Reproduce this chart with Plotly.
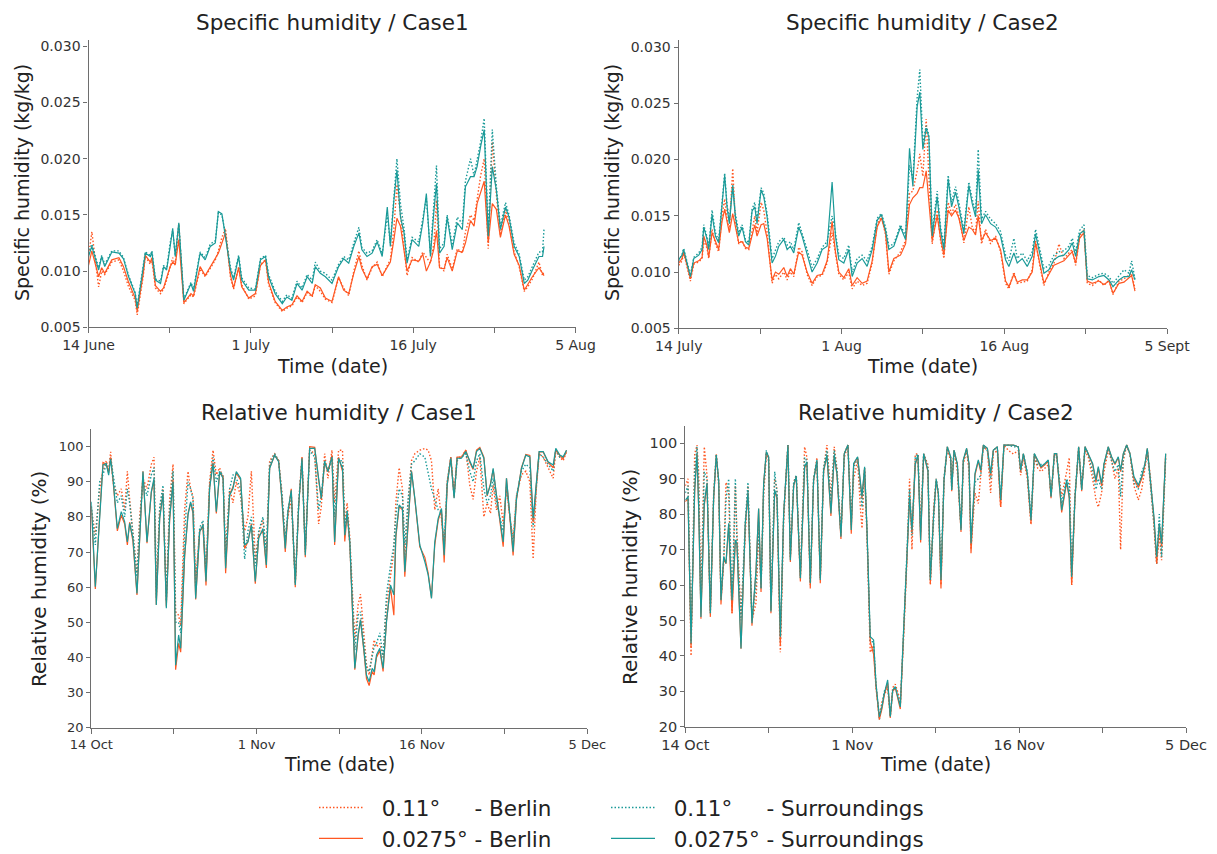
import plotly.graph_objects as go

# ---------------- Specific humidity / Case1 (time in days from start, 8 days per tick) ----------------
T_SH1 = [0.0, 0.33, 1.0, 1.3, 1.6, 2.3, 3.0, 3.45, 3.95, 4.6,
         4.8, 5.4, 5.6, 6.1, 6.25, 6.6, 7.1, 7.4, 7.7, 8.05,
         8.3, 8.55, 8.9, 9.4, 9.85, 10.1, 10.35, 11.0, 11.5, 12.0,
         12.5, 12.8, 13.15, 13.5, 14.0, 14.3, 14.8, 15.1, 15.8, 16.45,
         16.95, 17.45, 17.75, 18.4, 19.1, 19.55, 20.05, 20.55, 21.05, 21.55,
         22.05, 22.35, 22.85, 23.35, 24.0, 24.65, 25.15, 25.65, 26.15, 26.65,
         26.95, 27.45, 27.95, 28.45, 28.95, 29.45, 29.75, 30.1, 30.4, 30.75,
         31.1, 31.4, 31.9, 32.55, 32.95, 33.3, 33.7, 34.05, 34.3, 34.6,
         35.05, 35.35, 35.85, 36.35, 36.85, 37.15, 37.65, 38.0, 38.3, 38.65,
         39.0, 39.4, 39.8, 40.2, 40.6, 41.1, 41.45, 41.95, 42.45, 42.95,
         43.3, 43.75, 44.4, 44.75, 44.9]
SH1_BER_C = [0.0112, 0.0135, 0.0086, 0.0100, 0.0097, 0.0108, 0.0110, 0.0100, 0.0086, 0.0074,
             0.0061, 0.0096, 0.0113, 0.0106, 0.0110, 0.0085, 0.0080, 0.0084, 0.0092, 0.0103,
             0.0112, 0.0105, 0.0142, 0.0071, 0.0076, 0.0079, 0.0077, 0.0102, 0.0095, 0.0103,
             0.0110, 0.0118, 0.0130, 0.0138, 0.0094, 0.0084, 0.0104, 0.0088, 0.0075, 0.0078,
             0.0106, 0.0110, 0.0088, 0.0072, 0.0064, 0.0067, 0.0069, 0.0077, 0.0072, 0.0081,
             0.0077, 0.0087, 0.0082, 0.0075, 0.0072, 0.0094, 0.0085, 0.0078, 0.0100, 0.0118,
             0.0105, 0.0092, 0.0103, 0.0108, 0.0095, 0.0105, 0.0110, 0.0138, 0.0177, 0.0150,
             0.0122, 0.0096, 0.0112, 0.0108, 0.0117, 0.0112, 0.0107, 0.0125, 0.0163, 0.0104,
             0.0100, 0.0115, 0.0102, 0.0120, 0.0116, 0.0135, 0.0150, 0.0145, 0.0165, 0.0185,
             0.0200, 0.0120, 0.0215, 0.0168, 0.0132, 0.0155, 0.0142, 0.0117, 0.0104, 0.0082,
             0.0086, 0.0093, 0.0108, 0.0096, 0.0100]
SH1_BER_F = [0.0105, 0.0118, 0.0095, 0.0103, 0.0098, 0.0110, 0.0112, 0.0104, 0.0090, 0.0076,
             0.0064, 0.0098, 0.0114, 0.0108, 0.0112, 0.0087, 0.0082, 0.0085, 0.0094, 0.0104,
             0.0108, 0.0106, 0.0128, 0.0072, 0.0077, 0.0080, 0.0078, 0.0104, 0.0096, 0.0104,
             0.0112, 0.0116, 0.0125, 0.0134, 0.0096, 0.0085, 0.0103, 0.0086, 0.0076, 0.0080,
             0.0105, 0.0110, 0.0090, 0.0073, 0.0065, 0.0068, 0.0070, 0.0078, 0.0073, 0.0082,
             0.0078, 0.0088, 0.0085, 0.0076, 0.0073, 0.0095, 0.0083, 0.0080, 0.0098, 0.0113,
             0.0102, 0.0093, 0.0104, 0.0106, 0.0096, 0.0104, 0.0108, 0.0128, 0.0147, 0.0140,
             0.0120, 0.0100, 0.0110, 0.0109, 0.0115, 0.0100, 0.0108, 0.0120, 0.0136, 0.0103,
             0.0102, 0.0112, 0.0100, 0.0118, 0.0117, 0.0125, 0.0145, 0.0140, 0.0160, 0.0170,
             0.0180, 0.0125, 0.0160, 0.0155, 0.0130, 0.0150, 0.0140, 0.0115, 0.0105, 0.0083,
             0.0088, 0.0095, 0.0103, 0.0098, 0.0096]
SH1_SUR_C = [0.0116, 0.0124, 0.0103, 0.0114, 0.0106, 0.0118, 0.0118, 0.0112, 0.0096, 0.0081,
             0.0069, 0.0102, 0.0117, 0.0114, 0.0118, 0.0093, 0.0091, 0.0105, 0.0102, 0.0125,
             0.0136, 0.0114, 0.0142, 0.0075, 0.0085, 0.0090, 0.0084, 0.0117, 0.0112, 0.0124,
             0.0127, 0.0152, 0.0150, 0.0133, 0.0103, 0.0094, 0.0114, 0.0094, 0.0085, 0.0084,
             0.0111, 0.0114, 0.0097, 0.0082, 0.0073, 0.0079, 0.0076, 0.0091, 0.0085, 0.0097,
             0.0092, 0.0108, 0.0100, 0.0098, 0.0092, 0.0106, 0.0113, 0.0110, 0.0125, 0.0139,
             0.0121, 0.0116, 0.0118, 0.0128, 0.0115, 0.0150, 0.0125, 0.0170, 0.0200, 0.0160,
             0.0138, 0.0110, 0.0130, 0.0126, 0.0145, 0.0165, 0.0116, 0.0160, 0.0194, 0.0120,
             0.0125, 0.0150, 0.0123, 0.0148, 0.0142, 0.0180, 0.0200, 0.0185, 0.0198, 0.0215,
             0.0236, 0.0135, 0.0226, 0.0175, 0.0140, 0.0161, 0.0150, 0.0125, 0.0115, 0.0092,
             0.0095, 0.0104, 0.0117, 0.0117, 0.0138]
SH1_SUR_F = [0.0113, 0.0122, 0.0101, 0.0113, 0.0104, 0.0117, 0.0116, 0.0111, 0.0095, 0.0080,
             0.0067, 0.0101, 0.0116, 0.0113, 0.0117, 0.0092, 0.0089, 0.0104, 0.0101, 0.0122,
             0.0138, 0.0113, 0.0143, 0.0074, 0.0083, 0.0089, 0.0082, 0.0116, 0.0110, 0.0122,
             0.0125, 0.0153, 0.0151, 0.0131, 0.0101, 0.0092, 0.0113, 0.0092, 0.0083, 0.0083,
             0.0110, 0.0113, 0.0095, 0.0080, 0.0071, 0.0077, 0.0074, 0.0089, 0.0083, 0.0095,
             0.0089, 0.0104, 0.0098, 0.0095, 0.0089, 0.0104, 0.0111, 0.0107, 0.0122, 0.0134,
             0.0119, 0.0113, 0.0116, 0.0126, 0.0113, 0.0157, 0.0122, 0.0163, 0.0190, 0.0148,
             0.0134, 0.0107, 0.0128, 0.0122, 0.0143, 0.0169, 0.0113, 0.0154, 0.0178, 0.0116,
             0.0122, 0.0148, 0.0119, 0.0143, 0.0137, 0.0175, 0.0184, 0.0184, 0.0193, 0.0211,
             0.0226, 0.0131, 0.0193, 0.0172, 0.0137, 0.0157, 0.0148, 0.0122, 0.0113, 0.0089,
             0.0092, 0.0101, 0.0113, 0.0113, 0.0122]

# ---------------- Specific humidity / Case2 ----------------
T_SH2 = [0.0, 0.33, 0.49, 0.82, 1.15, 1.48, 1.97, 2.3, 2.46, 2.79,
         2.95, 3.28, 3.61, 3.93, 4.26, 4.52, 4.75, 4.98, 5.31, 5.57,
         5.9, 6.23, 6.56, 6.89, 7.21, 7.48, 7.7, 8.1, 8.36, 8.69,
         9.18, 9.51, 9.84, 10.33, 10.66, 10.98, 11.31, 11.8, 12.13, 12.62,
         13.11, 13.61, 14.1, 14.59, 15.08, 15.41, 15.74, 16.23, 16.72, 17.05,
         17.54, 18.03, 18.52, 19.02, 19.51, 19.93, 20.33, 20.66, 21.15, 21.8,
         22.3, 22.69, 23.02, 23.44, 23.7, 24.0, 24.33, 24.59, 24.92, 25.41,
         25.74, 26.07, 26.49, 26.82, 27.21, 27.54, 28.03, 28.52, 28.85, 29.18,
         29.44, 29.77, 30.16, 30.66, 31.15, 31.64, 32.13, 32.46, 32.95, 33.28,
         33.77, 34.26, 34.75, 35.08, 35.41, 35.9, 36.39, 36.89, 37.38, 37.87,
         38.36, 38.69, 39.02, 39.41, 39.84, 40.16, 40.66, 41.31, 41.8, 42.3,
         42.69, 43.28, 43.77, 44.26, 44.52, 44.85]
SH2_BER_C = [0.0106, 0.0110, 0.0117, 0.0104, 0.0092, 0.0107, 0.0109, 0.0112, 0.0128, 0.0121,
             0.0112, 0.0138, 0.0125, 0.0118, 0.0150, 0.0165, 0.0148, 0.0137, 0.0192, 0.0145,
             0.0125, 0.0128, 0.0121, 0.0120, 0.0138, 0.0150, 0.0135, 0.0162, 0.0155, 0.0135,
             0.0090, 0.0098, 0.0094, 0.0100, 0.0093, 0.0100, 0.0096, 0.0122, 0.0118, 0.0098,
             0.0088, 0.0096, 0.0097, 0.0108, 0.0135, 0.0115, 0.0098, 0.0093, 0.0100, 0.0085,
             0.0092, 0.0088, 0.0090, 0.0108, 0.0142, 0.0150, 0.0133, 0.0098, 0.0110, 0.0118,
             0.0128, 0.0170, 0.0172, 0.0190, 0.0205, 0.0185, 0.0236, 0.0185, 0.0125, 0.0155,
             0.0128, 0.0112, 0.0162, 0.0152, 0.0160, 0.0150, 0.0126, 0.0158, 0.0140, 0.0135,
             0.0163, 0.0125, 0.0138, 0.0125, 0.0132, 0.0118, 0.0090, 0.0085, 0.0100, 0.0090,
             0.0091, 0.0092, 0.0102, 0.0128, 0.0110, 0.0088, 0.0100, 0.0108, 0.0125, 0.0112,
             0.0117, 0.0120, 0.0106, 0.0132, 0.0138, 0.0090, 0.0088, 0.0093, 0.0088, 0.0093,
             0.0080, 0.0092, 0.0094, 0.0097, 0.0099, 0.0085]
SH2_BER_F = [0.0108, 0.0112, 0.0118, 0.0106, 0.0094, 0.0108, 0.0110, 0.0113, 0.0132, 0.0123,
             0.0113, 0.0135, 0.0127, 0.0120, 0.0145, 0.0156, 0.0145, 0.0135, 0.0152, 0.0140,
             0.0126, 0.0127, 0.0122, 0.0121, 0.0133, 0.0142, 0.0132, 0.0142, 0.0143, 0.0130,
             0.0093, 0.0100, 0.0098, 0.0104, 0.0096, 0.0103, 0.0098, 0.0118, 0.0115, 0.0100,
             0.0090, 0.0097, 0.0098, 0.0110, 0.0145, 0.0118, 0.0100, 0.0095, 0.0103, 0.0088,
             0.0095, 0.0090, 0.0092, 0.0110, 0.0140, 0.0148, 0.0135, 0.0100, 0.0112, 0.0115,
             0.0125, 0.0160, 0.0166, 0.0170, 0.0175, 0.0175, 0.0190, 0.0165, 0.0128, 0.0150,
             0.0130, 0.0115, 0.0155, 0.0150, 0.0155, 0.0148, 0.0128, 0.0140, 0.0138, 0.0133,
             0.0150, 0.0128, 0.0135, 0.0128, 0.0130, 0.0120, 0.0092, 0.0087, 0.0098, 0.0091,
             0.0093, 0.0093, 0.0100, 0.0126, 0.0112, 0.0090, 0.0098, 0.0106, 0.0108, 0.0110,
             0.0115, 0.0118, 0.0108, 0.0130, 0.0135, 0.0092, 0.0090, 0.0092, 0.0089, 0.0092,
             0.0081, 0.0090, 0.0091, 0.0095, 0.0097, 0.0083]
SH2_SUR_C = [0.0110, 0.0116, 0.0121, 0.0109, 0.0097, 0.0113, 0.0117, 0.0122, 0.0142, 0.0131,
             0.0122, 0.0155, 0.0135, 0.0128, 0.0165, 0.0188, 0.0160, 0.0146, 0.0178, 0.0152,
             0.0135, 0.0142, 0.0129, 0.0126, 0.0156, 0.0162, 0.0146, 0.0175, 0.0170, 0.0152,
             0.0112, 0.0120, 0.0127, 0.0131, 0.0124, 0.0127, 0.0120, 0.0144, 0.0135, 0.0120,
             0.0104, 0.0112, 0.0122, 0.0127, 0.0150, 0.0135, 0.0115, 0.0112, 0.0124, 0.0100,
             0.0112, 0.0115, 0.0110, 0.0123, 0.0148, 0.0152, 0.0140, 0.0123, 0.0125, 0.0142,
             0.0132, 0.0195, 0.0182, 0.0255, 0.0280, 0.0215, 0.0230, 0.0222, 0.0136, 0.0172,
             0.0140, 0.0124, 0.0186, 0.0162, 0.0176, 0.0162, 0.0137, 0.0180, 0.0165, 0.0153,
             0.0209, 0.0147, 0.0154, 0.0147, 0.0143, 0.0136, 0.0115, 0.0110, 0.0130, 0.0112,
             0.0117, 0.0110, 0.0118, 0.0138, 0.0124, 0.0103, 0.0106, 0.0115, 0.0118, 0.0119,
             0.0123, 0.0130, 0.0118, 0.0137, 0.0142, 0.0097, 0.0095, 0.0098, 0.0099, 0.0096,
             0.0090, 0.0097, 0.0102, 0.0099, 0.0110, 0.0094]
SH2_SUR_F = [0.0111, 0.0115, 0.0120, 0.0108, 0.0096, 0.0112, 0.0115, 0.0120, 0.0140, 0.0129,
             0.0120, 0.0151, 0.0132, 0.0126, 0.0161, 0.0186, 0.0158, 0.0143, 0.0176, 0.0149,
             0.0132, 0.0140, 0.0127, 0.0124, 0.0154, 0.0158, 0.0143, 0.0173, 0.0167, 0.0149,
             0.0108, 0.0114, 0.0123, 0.0129, 0.0120, 0.0123, 0.0117, 0.0140, 0.0132, 0.0117,
             0.0100, 0.0108, 0.0120, 0.0123, 0.0180, 0.0132, 0.0111, 0.0108, 0.0120, 0.0096,
             0.0108, 0.0112, 0.0105, 0.0120, 0.0146, 0.0151, 0.0137, 0.0120, 0.0123, 0.0140,
             0.0129, 0.0210, 0.0176, 0.0247, 0.0260, 0.0209, 0.0228, 0.0220, 0.0132, 0.0167,
             0.0137, 0.0120, 0.0183, 0.0158, 0.0171, 0.0158, 0.0134, 0.0177, 0.0161, 0.0149,
             0.0191, 0.0143, 0.0151, 0.0143, 0.0140, 0.0132, 0.0111, 0.0105, 0.0117, 0.0108,
             0.0112, 0.0105, 0.0114, 0.0134, 0.0120, 0.0099, 0.0102, 0.0111, 0.0114, 0.0115,
             0.0120, 0.0126, 0.0114, 0.0134, 0.0137, 0.0094, 0.0093, 0.0096, 0.0097, 0.0093,
             0.0087, 0.0093, 0.0096, 0.0096, 0.0102, 0.0093]

# ---------------- Relative humidity / Case1 ----------------
T_RH1 = [0.0, 0.39, 0.81, 1.13, 1.45, 1.68, 1.87, 2.1, 2.52, 2.9,
         3.23, 3.49, 3.71, 4.03, 4.42, 4.68, 5.0, 5.39, 5.81, 6.07,
         6.29, 6.62, 6.94, 7.26, 7.58, 7.91, 8.16, 8.45, 8.65, 9.03,
         9.36, 9.61, 9.84, 10.1, 10.49, 10.81, 11.1, 11.45, 11.78, 12.1,
         12.42, 12.75, 13.0, 13.39, 13.71, 14.03, 14.45, 14.84, 15.16, 15.49,
         15.87, 16.2, 16.61, 16.94, 17.26, 17.74, 18.13, 18.45, 18.77, 19.03,
         19.35, 19.74, 20.07, 20.39, 20.71, 21.13, 21.62, 22.0, 22.26, 22.58,
         22.9, 23.29, 23.55, 23.93,
         24.31, 24.53, 24.76, 25.02, 25.5, 25.82, 26.05, 26.37, 26.63, 26.89,
         27.18, 27.37, 27.6, 27.92, 28.24, 28.57, 28.95, 29.28, 29.47, 29.79,
         30.11, 30.34, 30.66, 30.99, 31.31, 31.79, 32.28, 32.6, 32.92, 33.24,
         33.57, 33.89, 34.15, 34.44, 34.79, 35.11, 35.4, 35.82, 36.24, 36.63,
         36.95, 37.28, 37.6, 37.99, 38.31, 38.63, 38.89, 39.21, 39.53, 39.86,
         40.18, 40.5, 40.82, 41.15, 41.63, 42.05, 42.44, 42.76, 43.08, 43.34,
         43.73, 44.21, 44.7, 44.95, 45.34, 45.66, 45.99]
RH1_BER_C = [82, 75, 88, 93, 96, 93, 98.5, 90, 86, 88,
             82, 93, 85, 76, 64, 80, 91, 88, 95, 97,
             60, 82, 88, 58, 85, 95, 53, 52, 49, 82,
             93, 88, 86, 62, 76, 78, 65, 90, 99, 92,
             94, 91, 70, 88, 84, 90, 86, 76, 80, 93,
             68, 75, 79, 70, 96, 98, 96, 87, 74, 80,
             85, 62, 84, 97, 71, 99, 98, 78, 83, 98,
             91, 99, 84, 99,
             99, 78, 84, 74, 45, 55, 58, 47, 38, 35,
             42, 45, 43, 44, 40, 55, 63, 70, 84, 94,
             88, 68, 84, 96, 98, 99, 99.5, 99, 96, 82,
             88, 80, 72, 90, 97, 87, 97, 97, 99, 89,
             85, 93, 97, 80, 84, 81, 89, 82, 86, 78,
             88, 80, 74, 86, 92, 93, 90, 68, 89, 98,
             97, 94, 91, 99, 97, 96, 98.5]
RH1_BER_F = [83.0, 59.5, 80.5, 95.5, 95.0, 92.5, 97.0, 90.5, 76.0, 80.5,
             78.0, 72.0, 78.5, 73.0, 57.8, 74.0, 93.0, 72.5, 87.0, 90.5,
             55.0, 80.0, 86.5, 54.5, 79.0, 90.5, 36.5, 44.0, 41.5, 68.5,
             81.0, 84.0, 81.0, 56.5, 76.0, 77.0, 60.5, 88.5, 95.5, 81.0,
             92.5, 91.5, 64.0, 86.5, 88.5, 92.5, 90.5, 71.0, 73.0, 78.0,
             61.0, 74.5, 76.0, 65.5, 94.0, 97.5, 96.0, 84.5, 70.0, 81.0,
             88.0, 60.0, 83.0, 97.0, 68.5, 100.0, 99.8, 90.5, 85.0, 95.5,
             93.0, 97.5, 72.0, 97.0,
             93.0, 73.0, 81.0, 72.0, 36.5, 46.0, 50.8, 42.0, 34.0, 32.0,
             36.0, 35.0, 40.0, 42.0, 36.0, 50.5, 60.0, 52.0, 74.0, 83.0,
             82.0, 63.0, 79.0, 93.0, 85.0, 71.5, 68.5, 64.0, 57.0, 72.0,
             79.0, 82.0, 67.0, 89.0, 97.0, 85.5, 97.0, 97.0, 99.0, 95.5,
             93.5, 99.0, 99.8, 97.0, 86.0, 89.5, 93.5, 86.0, 79.0, 71.5,
             91.0, 81.0, 69.0, 85.0, 94.0, 97.8, 97.5, 78.5, 91.0, 98.5,
             98.5, 95.5, 94.0, 99.0, 97.5, 96.5, 99.0]
RH1_SUR_C = [83, 72, 90, 92, 95, 93, 97, 92, 84, 86,
             80, 88, 84, 75, 63, 78, 90, 86, 92, 94,
             57, 83, 89, 56, 82, 93, 50, 50, 47, 75,
             90, 88, 85, 60, 77, 79, 64, 89, 97, 90,
             93, 92, 68, 88, 92, 91, 88, 68, 76, 80,
             66, 76, 80, 70, 95, 98, 96, 86, 73, 82,
             87, 61, 84, 96, 70, 99, 97, 82, 86, 96,
             93, 97, 80, 96,
             96, 76, 82, 72, 42, 52, 53, 44, 37, 36,
             40, 43, 44, 47, 40, 58, 66, 72, 80, 88,
             86, 72, 85, 95, 96, 98, 97, 92, 88, 85,
             82, 81, 71, 90, 97, 86, 96, 97, 98, 93,
             90, 96, 98, 88, 84, 86, 91, 84, 80, 76,
             89, 80, 72, 86, 93, 95, 94, 77, 90, 98,
             97, 95, 93, 99, 97, 97, 98.5]
RH1_SUR_F = [84.3, 60.1, 79.6, 94.8, 95.2, 91.9, 96.5, 91.0, 76.7, 81.5,
             78.6, 72.9, 78.2, 73.9, 58.2, 74.8, 92.9, 72.9, 87.2, 91.0,
             54.9, 79.6, 86.7, 54.0, 79.6, 90.0, 37.8, 46.4, 42.6, 69.1,
             80.5, 84.3, 81.5, 56.8, 75.8, 77.7, 61.6, 88.1, 95.2, 81.5,
             92.9, 91.0, 65.4, 86.2, 88.1, 92.9, 91.0, 72.0, 72.9, 77.7,
             61.6, 73.9, 76.7, 66.3, 93.8, 97.6, 95.7, 85.3, 71.0, 81.5,
             87.6, 60.6, 83.4, 96.7, 69.1, 99.5, 99.5, 91.0, 85.3, 95.7,
             92.9, 97.1, 72.9, 96.7,
             93.8, 74.8, 81.5, 72.9, 36.9, 46.4, 50.6, 42.6, 35.0, 33.1,
             36.9, 35.9, 40.7, 42.6, 36.9, 50.2, 60.6, 57.8, 74.8, 83.4,
             82.4, 64.4, 79.6, 92.9, 85.3, 72.0, 67.2, 63.5, 56.8, 72.9,
             79.6, 82.4, 69.1, 89.1, 96.7, 85.3, 96.7, 96.7, 98.6, 95.7,
             93.8, 98.6, 99.5, 96.7, 86.2, 89.1, 93.8, 86.2, 79.6, 72.9,
             91.0, 81.5, 70.1, 85.3, 93.8, 97.6, 97.1, 79.6, 91.0, 98.6,
             98.6, 95.7, 94.8, 99.5, 97.6, 97.1, 99.0]

# ---------------- Relative humidity / Case2 ----------------
T_RH2 = [0.0, 0.26, 0.55, 0.9, 1.12, 1.28, 1.5, 1.82, 2.08, 2.4,
         2.72, 2.97, 3.2, 3.42, 3.68, 3.9, 4.16, 4.48, 4.8, 4.95,
         5.34, 5.75, 6.01, 6.39, 6.78, 7.03, 7.26, 7.51, 7.77, 7.99,
         8.21, 8.57, 8.79, 9.11, 9.43, 9.84, 10.07, 10.39, 10.64, 11.03,
         11.44, 11.66, 11.98, 12.3, 12.62, 12.94, 13.26, 13.58, 13.96, 14.28,
         14.54, 14.92, 15.24, 15.59, 15.91, 16.14, 16.52, 16.78, 16.94, 17.19,
         17.42, 17.73, 18.05, 18.28, 18.6, 18.85, 19.08, 19.4, 19.65, 19.88,
         20.13, 20.45, 20.61, 20.93, 21.25, 21.5, 21.73, 22.05, 22.3, 22.56,
         22.85, 23.26, 23.49, 23.81, 24.05,
         24.26, 24.51, 24.8, 25.12, 25.44, 25.54, 25.76, 26.08, 26.43, 26.65,
         26.97, 27.2, 27.39, 27.77, 28.09, 28.32, 28.57, 28.96, 29.27, 29.53,
         29.91, 30.23, 30.55, 30.97, 31.45, 31.93, 32.15, 32.41, 32.79, 33.14,
         33.46, 33.78, 34.1, 34.48, 34.8, 35.06, 35.38, 35.6, 36.08, 36.56,
         36.81, 37.04, 37.36, 37.71, 38.0, 38.32, 38.64, 39.05, 39.37, 39.59,
         39.91, 40.14, 40.55, 40.87, 41.19, 41.51, 41.73, 41.99, 42.31, 42.63,
         43.01, 43.43, 43.75, 44.07, 44.29, 44.61, 44.93, 45.19, 45.44, 45.66, 46.05]
RH2_BER_C = [88, 90, 40, 97, 99.5, 92, 55, 99, 91, 53,
             86, 97, 88, 56, 66, 89, 86, 52, 88, 75,
             52, 72, 88, 50, 55, 75, 60, 85, 97, 95,
             53, 90, 87, 41, 78, 99.5, 68, 89, 91, 63,
             99, 96, 60, 90, 96, 62, 93, 99.5, 85, 99,
             93, 75, 96, 99.5, 80, 90, 95, 82, 76, 92,
             74, 41, 43, 31, 23, 27, 29, 31, 23, 31,
             32, 29, 26, 45, 67, 90, 70, 97, 97, 77,
             97, 94, 60, 82, 90,
             86, 60, 90, 98.5, 95, 89, 98, 92, 76, 94,
             98, 92, 70, 86, 83, 90, 99, 98, 86, 97,
             98, 82, 99.5, 98, 97, 98, 91, 96, 90, 77,
             96, 93, 92, 93, 94, 85, 97, 96, 85, 92,
             96, 60, 86, 98, 88, 98, 96, 90, 84, 82,
             86, 92, 98, 95, 90, 93, 70, 95, 99.5, 97,
             88, 84, 87, 93, 98, 90, 78, 66, 74, 67, 96]
RH2_BER_F = [83.5, 84.5, 42.5, 86.5, 97.0, 82.0, 50.5, 82.5, 88.5, 51.0,
             84.5, 96.5, 89.5, 54.5, 67.5, 66.0, 77.0, 52.0, 72.5, 71.5,
             42.0, 77.0, 86.0, 48.5, 64.0, 81.5, 58.0, 88.5, 97.5, 96.0,
             52.0, 86.5, 84.5, 43.0, 80.0, 99.5, 66.5, 88.0, 90.5, 61.0,
             93.0, 94.5, 59.0, 89.5, 95.0, 60.5, 92.0, 96.5, 79.5, 96.5,
             91.0, 73.0, 97.0, 99.5, 74.5, 94.0, 96.0, 87.5, 84.5, 93.0,
             75.0, 44.0, 40.5, 31.5, 22.0, 25.0, 29.0, 32.5, 22.5, 30.0,
             31.0, 27.0, 25.0, 46.5, 68.5, 84.5, 75.0, 94.0, 96.5, 72.0,
             97.0, 92.0, 60.5, 80.0, 89.5,
             85.5, 59.0, 89.5, 99.0, 96.0, 86.5, 98.0, 94.0, 75.0, 95.0,
             98.5, 94.0, 69.0, 91.0, 95.0, 92.0, 99.5, 98.5, 91.0, 98.0,
             99.0, 82.0, 99.5, 99.5, 99.5, 99.0, 92.0, 97.0, 91.0, 77.5,
             97.0, 95.0, 93.0, 94.0, 95.0, 84.5, 97.0, 97.0, 80.5, 89.0,
             84.5, 60.0, 84.5, 99.0, 86.5, 99.0, 97.0, 94.0, 89.0, 93.0,
             88.0, 94.0, 99.0, 96.0, 94.0, 96.0, 92.0, 97.0, 99.5, 97.0,
             90.0, 87.5, 90.0, 94.0, 98.5, 89.0, 78.5, 66.0, 77.0, 71.0, 97.0]
RH2_SUR_C = [86, 88, 44, 92, 99, 88, 53, 92, 90, 52,
             85, 97, 89, 56, 67, 84, 90, 54, 90, 72,
             50, 78, 89, 50, 60, 78, 59, 87, 98, 96,
             53, 92, 86, 44, 80, 99.5, 68, 89, 91, 62,
             96, 95, 61, 90, 95, 62, 93, 98, 83, 98,
             92, 74, 97, 99.5, 77, 93, 96, 86, 82, 93,
             75, 44, 44, 32, 22, 26, 30, 32, 23, 30,
             31, 28, 26, 47, 70, 87, 74, 96, 97, 75,
             97, 93, 62, 80, 90,
             86, 62, 90, 99, 96, 87, 98, 94, 76, 95,
             98, 94, 72, 89, 90, 91, 99, 98, 90, 98,
             99, 84, 99.5, 99.5, 99, 99, 92, 97, 92, 79,
             97, 94, 94, 94, 95, 85, 96, 97, 83, 90,
             88, 63, 85, 99, 87, 99, 97, 92, 87, 90,
             87, 94, 99, 95, 92, 94, 85, 96, 99.5, 97,
             89, 87, 92, 94, 98, 88, 77, 66, 80, 68, 96]
RH2_SUR_F = [84.0, 84.9, 43.5, 86.8, 97.1, 82.1, 51.0, 83.0, 88.7, 52.0,
             84.9, 96.7, 89.6, 55.7, 68.0, 66.1, 77.4, 55.7, 72.7, 71.7,
             42.1, 77.4, 86.3, 49.2, 64.2, 81.6, 59.0, 88.7, 97.6, 96.2,
             52.5, 86.8, 84.9, 45.4, 80.2, 99.5, 67.0, 88.2, 90.6, 61.9,
             93.4, 94.8, 60.5, 89.6, 95.3, 61.4, 92.4, 96.7, 80.2, 96.7,
             91.5, 73.6, 97.1, 99.5, 75.5, 94.3, 96.2, 88.0, 85.0, 93.4,
             75.5, 45.4, 44.5, 32.2, 22.8, 25.6, 29.4, 33.2, 22.8, 30.3,
             31.3, 27.5, 25.6, 47.3, 68.9, 84.9, 75.5, 94.3, 96.7, 72.7,
             97.1, 92.4, 61.4, 80.2, 89.8,
             85.9, 61.4, 89.6, 99.0, 96.2, 86.8, 98.1, 94.3, 75.5, 95.3,
             98.6, 94.3, 71.7, 91.5, 95.3, 92.4, 99.5, 98.6, 91.5, 98.1,
             99.0, 84.0, 99.5, 99.5, 99.5, 99.0, 92.4, 97.1, 91.5, 78.3,
             97.1, 95.3, 93.4, 94.3, 95.3, 84.9, 97.1, 97.1, 81.1, 89.6,
             84.9, 62.3, 84.9, 99.0, 86.8, 99.0, 97.1, 94.3, 89.6, 93.4,
             88.7, 94.3, 99.0, 96.2, 94.3, 96.2, 92.4, 97.1, 99.5, 97.1,
             90.6, 88.2, 90.6, 94.3, 98.6, 89.6, 79.3, 68.0, 77.4, 71.7, 97.1]

TICK_POS = [0, 8, 16, 24, 32, 40, 48]
LBL_SH1 = ["14 June", "", "1 July", "", "16 July", "", "5 Aug"]
LBL_SH2 = ["14 July", "", "1 Aug", "", "16 Aug", "", "5 Sept"]
LBL_RH = ["14 Oct", "", "1 Nov", "", "16 Nov", "", "5 Dec"]
SH_TICKS = [0.005, 0.010, 0.015, 0.020, 0.025, 0.030]
RH_TICKS = [20, 30, 40, 50, 60, 70, 80, 90, 100]

TITLES = ["Specific humidity / Case1", "Specific humidity / Case2",
          "Relative humidity / Case1", "Relative humidity / Case2"]
YTITLES = ["Specific humidity (kg/kg)", "Specific humidity (kg/kg)",
           "Relative humidity (%)", "Relative humidity (%)"]
NB = "\u00a0"
LEG_NAMES = [NB * 2 + "0.11°" + NB * 5 + "- Berlin", NB * 2 + "0.0275°" + NB + "- Berlin",
             NB * 2 + "0.11°" + NB * 5 + "- Surroundings", NB * 2 + "0.0275°" + NB + "- Surroundings"]

BER = "#FF5722"
SUR = "#1A9A98"
FONT = "DejaVu Sans"
W, H = 1217, 854

panels = [
    (T_SH1, SH1_BER_C, SH1_BER_F, SH1_SUR_C, SH1_SUR_F),
    (T_SH2, SH2_BER_C, SH2_BER_F, SH2_SUR_C, SH2_SUR_F),
    (T_RH1, RH1_BER_C, RH1_BER_F, RH1_SUR_C, RH1_SUR_F),
    (T_RH2, RH2_BER_C, RH2_BER_F, RH2_SUR_C, RH2_SUR_F),
]

# pixel boxes (left, right, bottom, top) of each axes area
boxes = [(88.5, 575.5, 327.3, 39.6), (678.7, 1167.0, 328.3, 40.3),
         (91.3, 587.3, 727.7, 429.1), (685.3, 1186.0, 726.7, 425.6)]
tick_fonts = [14, 14, 13, 14.5]
ytitle_sizes = [19, 19, 20, 20]

DOT = "1.5px,2px"
fig = go.Figure()
for i, (t, bc, bf, sc, sf) in enumerate(panels):
    ax = "" if i == 0 else str(i + 1)
    series = [(bc, BER, DOT, 1.4, 0, "legend"), (sc, SUR, DOT, 1.4, 2, "legend2"),
              (bf, BER, "solid", 1.2, 1, "legend"), (sf, SUR, "solid", 1.2, 3, "legend2")]
    for vals, col, dash, wid, li, leg in series:
        assert len(vals) == len(t), (i, li, len(vals), len(t))
        fig.add_trace(go.Scatter(
            x=t, y=vals, mode="lines", xaxis="x" + ax, yaxis="y" + ax,
            line=dict(color=col, dash=dash, width=wid),
            name=LEG_NAMES[li], showlegend=(i == 0), legend=leg,
            legendgroup="g%d" % li, legendrank=li))

layout = dict(width=W, height=H, margin=dict(l=0, r=0, t=0, b=0, pad=0, autoexpand=False),
              paper_bgcolor="white", plot_bgcolor="white",
              font=dict(family=FONT, color="#262626"))
annotations = []
for i, (l, r, b, tp) in enumerate(boxes):
    ax = "" if i == 0 else str(i + 1)
    xd = [l / W, r / W]
    yd = [1 - b / H, 1 - tp / H]
    is_sh = i < 2
    layout["xaxis" + ax] = dict(
        domain=xd, anchor="y" + ax, range=[0, 48], tickmode="array", automargin=False,
        tickvals=TICK_POS, ticktext=[LBL_SH1, LBL_SH2, LBL_RH, LBL_RH][i],
        showgrid=False, zeroline=False, showline=True, linecolor="#6e6e6e",
        linewidth=1.3, ticks="outside", ticklen=5, tickcolor="#6e6e6e",
        tickfont=dict(size=tick_fonts[i], color="#333333"))
    layout["yaxis" + ax] = dict(
        domain=yd, anchor="x" + ax, automargin=False,
        range=[0.005, 0.0306] if is_sh else [20, 105],
        tickmode="array", tickvals=SH_TICKS if is_sh else RH_TICKS,
        tickformat=".3f" if is_sh else "d",
        showgrid=False, zeroline=False, showline=True, linecolor="#6e6e6e",
        linewidth=1.3, ticks="outside", ticklen=4, tickcolor="#6e6e6e",
        tickfont=dict(size=tick_fonts[i], color="#333333"))
    cx = (xd[0] + xd[1]) / 2
    title_y = [22, 22, 412, 412][i]
    annotations.append(dict(text=TITLES[i], x=cx, y=1 - title_y / H, xref="paper", yref="paper",
                            showarrow=False, font=dict(size=21.5, color="#222222"),
                            xanchor="center", yanchor="middle"))
    xt_y = [366, 366, 764, 764][i]
    annotations.append(dict(text="Time (date)", x=cx, y=1 - xt_y / H, xref="paper", yref="paper",
                            showarrow=False, font=dict(size=19, color="#222222"),
                            xanchor="center", yanchor="middle"))
    yt_x = [22, 612, 39, 630][i]
    yt_y = [183, 183, 579, 577][i]
    annotations.append(dict(text=YTITLES[i], x=yt_x / W, y=1 - yt_y / H, xref="paper", yref="paper",
                            showarrow=False, textangle=-90,
                            font=dict(size=ytitle_sizes[i], color="#222222"),
                            xanchor="center", yanchor="middle"))
layout["annotations"] = annotations
leg_common = dict(orientation="v", yanchor="top", xanchor="left", bgcolor="rgba(0,0,0,0)",
                  font=dict(size=21.5, family=FONT, color="#222222"), tracegroupgap=2,
                  traceorder="normal", itemwidth=44)
layout["legend"] = dict(x=314 / W, y=1 - 787 / H, **leg_common)
layout["legend2"] = dict(x=606 / W, y=1 - 787 / H, **leg_common)
fig.update_layout(**layout)
fig.write_html("out.html")
